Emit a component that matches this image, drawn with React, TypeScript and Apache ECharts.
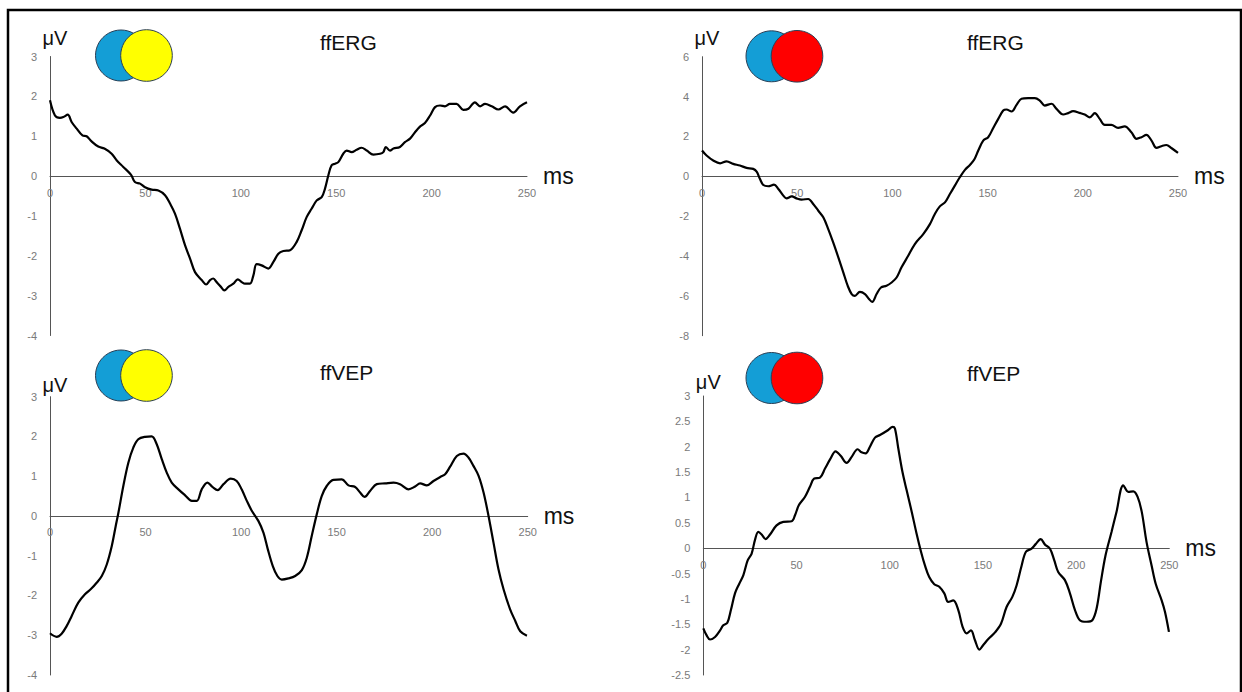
import React, { useEffect, useRef } from "react";
import * as echarts from "echarts";

// ---- data (time in ms, amplitude in µV) ----
const xTicks = [0, 50, 100, 150, 200, 250];

const ergYellow: [number, number][] = [[0,1.90],[2.6,1.52],[5.2,1.46],[7,1.48],[9.3,1.54],[11.4,1.35],[14,1.19],[17,1.02],[19.2,1.00],[21.8,0.87],[25.3,0.74],[28.5,0.69],[32.3,0.56],[35,0.39],[38.4,0.23],[42.5,0.03],[44.5,-0.15],[47.2,-0.19],[49.8,-0.28],[53.3,-0.34],[56.8,-0.36],[60.3,-0.48],[62.9,-0.69],[65.5,-0.94],[68.1,-1.32],[70.8,-1.74],[73.4,-2.07],[76,-2.41],[79.5,-2.61],[81.8,-2.72],[83.9,-2.61],[85.6,-2.57],[87.3,-2.66],[89.6,-2.78],[91.4,-2.87],[93.5,-2.78],[96.1,-2.70],[98.4,-2.59],[100.5,-2.66],[102.2,-2.70],[104.8,-2.70],[106.6,-2.49],[108.3,-2.21],[110.9,-2.24],[114.4,-2.32],[117,-2.16],[119.7,-1.95],[122.3,-1.88],[125.8,-1.86],[129.3,-1.65],[131.9,-1.36],[134.5,-1.03],[137.1,-0.82],[139.8,-0.61],[142.4,-0.53],[144.1,-0.32],[145.9,0.02],[147.6,0.27],[149.4,0.31],[151.1,0.35],[153.7,0.56],[155.5,0.64],[158.1,0.60],[160.7,0.66],[163.3,0.71],[166,0.64],[169.5,0.54],[173,0.56],[174.7,0.60],[176,0.73],[178.2,0.64],[180,0.69],[183.4,0.73],[186,0.85],[188.7,0.94],[191.3,1.10],[193.9,1.24],[196.5,1.33],[199.2,1.52],[201.8,1.73],[204.4,1.77],[207,1.75],[209.6,1.81],[213.1,1.81],[216.6,1.66],[219.3,1.69],[222.7,1.85],[225.4,1.75],[228,1.81],[231.5,1.75],[235,1.67],[238.5,1.75],[242.8,1.59],[246.3,1.75],[250,1.85]];

const ergRed: [number, number][] = [[0,1.29],[2.4,1.04],[5.9,0.79],[9.5,0.65],[12.9,0.75],[16.4,0.62],[19.9,0.54],[23.4,0.42],[26.9,0.37],[28.7,0.23],[30.4,-0.13],[32.2,-0.44],[34.8,-0.50],[37.8,-0.42],[40.1,-0.64],[42.7,-0.97],[44.4,-1.11],[47.1,-1.01],[49.7,-1.11],[52.3,-1.17],[55.8,-1.14],[58.4,-1.39],[61.1,-1.73],[63.7,-2.06],[66.3,-2.65],[68.9,-3.32],[71.6,-4.07],[74.2,-4.82],[76.5,-5.49],[78.6,-5.91],[80.3,-6.00],[82.9,-5.80],[85.6,-5.91],[87.7,-6.16],[89.4,-6.30],[91.7,-5.91],[94,-5.58],[96.9,-5.49],[99.6,-5.33],[102.2,-5.08],[104.8,-4.57],[108.3,-3.99],[111.8,-3.40],[116.2,-2.90],[119.7,-2.40],[122.3,-1.89],[124.9,-1.51],[127.6,-1.31],[130.2,-0.89],[132.8,-0.47],[135.4,-0.05],[138.1,0.32],[140.7,0.57],[143,0.84],[145.1,1.29],[147.7,1.79],[150.3,1.96],[152.9,2.41],[155.6,2.88],[158.2,3.30],[159.9,3.35],[162.6,3.25],[165.2,3.58],[167.8,3.89],[171.3,3.92],[174.8,3.92],[177.4,3.80],[180,3.55],[183.6,3.64],[186.2,3.38],[189.7,3.10],[192.3,3.17],[194.9,3.27],[198.4,3.18],[201,3.10],[203.7,2.96],[206.3,3.17],[208.9,2.88],[211.5,2.58],[215,2.58],[218.5,2.43],[222,2.50],[225.5,2.21],[228.2,1.88],[230.8,1.96],[233.4,2.08],[236.1,1.79],[238.7,1.42],[241.3,1.51],[243.9,1.57],[246.5,1.42],[250,1.17]];

const vepYellow: [number, number][] = [[0,-2.95],[3.5,-3.04],[6.1,-2.96],[8.7,-2.77],[11.3,-2.52],[14.8,-2.18],[18.3,-1.97],[21.8,-1.82],[24.4,-1.68],[27.1,-1.51],[29.7,-1.22],[32.3,-0.76],[34.4,-0.25],[35.8,0.08],[38.4,0.76],[41,1.34],[43.6,1.72],[46.2,1.93],[49.7,1.99],[53.2,2.00],[55.8,1.81],[58.5,1.43],[61.1,1.09],[63.7,0.84],[67.2,0.67],[70.7,0.52],[74.2,0.38],[76.8,0.38],[79.4,0.67],[82.4,0.84],[85,0.73],[87.8,0.65],[90.8,0.80],[94.6,0.94],[97.7,0.88],[100.3,0.67],[103,0.38],[105.6,0.13],[109.1,-0.13],[111.7,-0.42],[114,-0.84],[116.6,-1.26],[119,-1.51],[121.3,-1.60],[124.8,-1.57],[128.3,-1.51],[131.8,-1.36],[134.4,-1.05],[137,-0.50],[139.6,0.04],[142.2,0.50],[144.9,0.76],[148.3,0.91],[152.7,0.92],[156.2,0.77],[159.7,0.73],[162.3,0.59],[164.6,0.48],[167.5,0.63],[171,0.80],[175.4,0.82],[179.8,0.84],[183.2,0.80],[187.6,0.67],[191.1,0.74],[193.7,0.82],[197.2,0.77],[200.7,0.88],[204.2,0.98],[206.8,1.05],[209.4,1.24],[212.9,1.51],[216.4,1.57],[219,1.47],[221.6,1.26],[224.3,1.01],[226.9,0.59],[229.5,0.00],[232.1,-0.67],[234.7,-1.34],[237.4,-1.85],[240.8,-2.35],[243.5,-2.64],[246.1,-2.90],[249.6,-3.01]];

const vepRed: [number, number][] = [[0,-1.58],[1.8,-1.72],[3.6,-1.80],[6.3,-1.75],[9,-1.62],[10.7,-1.52],[12.9,-1.47],[14.8,-1.22],[17,-0.89],[19.3,-0.70],[21.5,-0.53],[23.8,-0.24],[25.9,-0.11],[27.7,0.16],[29.5,0.32],[31.3,0.27],[33.4,0.18],[35.8,0.27],[39.3,0.45],[42.9,0.52],[47.4,0.53],[49.2,0.65],[51.3,0.85],[54.5,1.01],[57.2,1.21],[59.4,1.37],[62.6,1.39],[65.3,1.57],[68,1.75],[71,1.91],[73.7,1.82],[76.9,1.68],[79.6,1.80],[82.8,1.95],[84.9,1.89],[87.1,1.87],[89.4,2.00],[92.1,2.18],[94.8,2.23],[97.5,2.29],[99.2,2.33],[101.6,2.39],[102.8,2.36],[104.6,1.97],[106.8,1.51],[109.1,1.14],[111.8,0.72],[114.4,0.29],[116.8,-0.07],[118.9,-0.34],[121.2,-0.57],[123.9,-0.71],[126.6,-0.76],[129.3,-0.89],[131.4,-1.06],[134.1,-1.03],[136.8,-1.22],[139.1,-1.55],[141.3,-1.68],[143.6,-1.62],[145.7,-1.81],[148.1,-2.00],[150.2,-1.91],[152.9,-1.79],[156.5,-1.66],[159.7,-1.49],[162.7,-1.16],[165.8,-0.96],[168.1,-0.73],[170.8,-0.34],[173.1,-0.07],[176.1,-0.01],[178.3,0.08],[181,0.18],[183.3,0.07],[186,-0.01],[188.3,-0.24],[190.4,-0.47],[194,-0.63],[196.7,-0.89],[199.4,-1.22],[202,-1.42],[205.6,-1.45],[208.7,-1.42],[211,-1.19],[213.3,-0.66],[215.8,-0.14],[219,0.32],[221.7,0.72],[225.3,1.24],[228,1.11],[230.7,1.12],[233,1.01],[235.2,0.72],[237.8,0.12],[240.5,-0.34],[242.7,-0.70],[245.9,-1.03],[247.7,-1.26],[249.8,-1.65]];

const titles = ["ffERG", "ffERG", "ffVEP", "ffVEP"];
const yRanges = [
  { min: -4, max: 3, interval: 1 },
  { min: -8, max: 6, interval: 2 },
  { min: -4, max: 3, interval: 1 },
  { min: -2.5, max: 3, interval: 0.5 },
];
const seriesData = [ergYellow, ergRed, vepYellow, vepRed];

// ---- layout / style ----
const BLUE = "#149ed6";
const YELLOW = "#ffff00";
const RED = "#ff0000";
const FONT = "Liberation Sans, Arial, Helvetica, sans-serif";

const layout = [
  { grid: { left: 50, top: 56.5, width: 477, height: 279 }, uvGap: 9, title: [320, 42], circ: [121, 55.5], second: YELLOW },
  { grid: { left: 702, top: 56.7, width: 476, height: 279 }, uvGap: 9, title: [967, 42], circ: [771.5, 56.3], second: RED },
  { grid: { left: 50, top: 396.7, width: 477.7, height: 278.3 }, uvGap: 2, title: [320, 372], circ: [121, 375.5], second: YELLOW },
  { grid: { left: 703.3, top: 396, width: 466, height: 279 }, uvGap: 4, title: [967, 373], circ: [771.5, 378], second: RED },
];

export default function App() {
  const ref = useRef<HTMLDivElement>(null);
  useEffect(() => {
    if (!ref.current) return;
    const chart = echarts.init(ref.current, undefined, { renderer: "svg" });

    const grids = layout.map((l) => ({ ...l.grid, containLabel: false }));
    const xAxes = layout.map((l, i) => {
      const r = yRanges[i];
      // move the x axis (line + labels) up to the zero line of the y axis
      const zeroOffset = -(l.grid.height * (0 - r.min)) / (r.max - r.min);
      return {
        type: "value",
        gridIndex: i,
        position: "bottom",
        offset: zeroOffset,
        min: xTicks[0],
        max: xTicks[xTicks.length - 1],
        interval: 50,
        name: "ms",
        nameLocation: "end",
        nameGap: 16,
        nameTextStyle: { color: "#111", fontSize: 23, fontFamily: FONT, verticalAlign: "middle", padding: [0, 0, 4, 0] },
        axisLine: { show: true, onZero: false, lineStyle: { color: "#555", width: 1 } },
        axisTick: { show: false },
        splitLine: { show: false },
        axisLabel: { color: "#7a7a7a", fontSize: 11, fontFamily: FONT, margin: 11 },
        z: 2,
      };
    });
    const yAxes = layout.map((l, i) => ({
      type: "value",
      gridIndex: i,
      ...yRanges[i],
      name: "μV",
      nameLocation: "end",
      nameGap: l.uvGap,
      nameTextStyle: { color: "#111", fontSize: 20, fontFamily: FONT, padding: [0, 0, 0, 10] },
      axisLine: { show: true, onZero: false, lineStyle: { color: "#555", width: 1 } },
      axisTick: { show: false },
      splitLine: { show: false },
      axisLabel: { color: "#7a7a7a", fontSize: 11, fontFamily: FONT, margin: 13 },
    }));
    const series = seriesData.map((d, i) => ({
      type: "line",
      xAxisIndex: i,
      yAxisIndex: i,
      data: d,
      smooth: 0.35,
      symbol: "none",
      lineStyle: { color: "#000", width: 2.2 },
      z: 3,
    }));

    const graphic: any[] = [
      {
        type: "rect",
        shape: { x: 8, y: 10, width: 1233, height: 700 },
        style: { fill: "none", stroke: "#000", lineWidth: 2.5 },
        silent: true,
      },
    ];
    layout.forEach((l, i) => {
      graphic.push({
        type: "circle",
        shape: { cx: l.circ[0], cy: l.circ[1], r: 25.5 },
        style: { fill: BLUE, stroke: "#2b3f55", lineWidth: 1 },
      });
      graphic.push({
        type: "circle",
        shape: { cx: l.circ[0] + 25.5, cy: l.circ[1], r: 25.8 },
        style: { fill: l.second, stroke: "#2b3f55", lineWidth: 1 },
      });
      graphic.push({
        type: "text",
        x: l.title[0],
        y: l.title[1],
        style: { text: titles[i], fill: "#111", fontSize: 21, fontFamily: FONT, verticalAlign: "middle", align: "left" },
      });
    });

    chart.setOption({
      animation: false,
      backgroundColor: "#fff",
      grid: grids,
      xAxis: xAxes,
      yAxis: yAxes,
      series,
      graphic,
    });
    return () => chart.dispose();
  }, []);
  return (
    <div
      ref={ref}
      style={{ position: "fixed", left: 0, top: 0, width: 1242, height: 692, background: "#fff" }}
    />
  );
}
